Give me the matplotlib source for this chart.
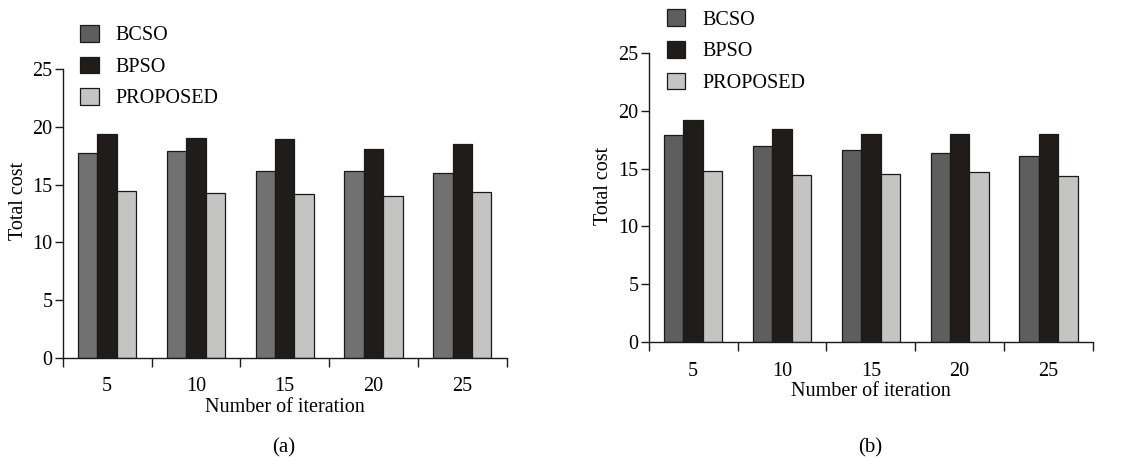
import matplotlib
matplotlib.use("Agg")
import matplotlib.pyplot as plt
import numpy as np
from matplotlib.patches import Patch

plt.rcParams['font.family'] = ['Liberation Serif', 'DejaVu Serif']

iterations = ["5", "10", "15", "20", "25"]
series = ["BCSO", "BPSO", "PROPOSED"]

bcso_a = [17.7, 17.87, 16.2, 16.2, 16.0]
bpso_a = [19.37, 19.02, 18.94, 18.07, 18.5]
prop_a = [14.46, 14.23, 14.15, 14.03, 14.38]

bcso_b = [17.9, 16.98, 16.6, 16.35, 16.09]
bpso_b = [19.2, 18.43, 18.02, 18.02, 18.02]
prop_b = [14.79, 14.48, 14.53, 14.73, 14.36]

colors_a = ["#717171", "#201c1a", "#c4c4c2"]
colors_b = ["#5e5e5e", "#201c1a", "#c4c4c2"]
legend_colors = ["#5e5e5e", "#201c1a", "#c4c4c2"]

fig = plt.figure(figsize=(11.32, 4.61), dpi=100)

def draw(ax, data, colors, caption, leg_anchor, ylab_coords):
    n = len(iterations)
    x = np.arange(n) + 0.5
    w = 0.218
    for k, (vals, c) in enumerate(zip(data, colors)):
        ax.bar(x + (k - 1) * w, vals, width=w, color=c, edgecolor="#1a1a1a",
               linewidth=0.9, label=series[k])
    ax.set_xlim(0, n)
    ax.set_ylim(0, 25)
    ax.spines['top'].set_visible(False)
    ax.spines['right'].set_visible(False)
    for s in ['left', 'bottom']:
        ax.spines[s].set_linewidth(1.0)
        ax.spines[s].set_color("#1a1a1a")
    ax.set_yticks([0, 5, 10, 15, 20, 25])
    ax.set_xticks(np.arange(n + 1))
    ax.set_xticklabels([])
    ax.set_xticks(x, minor=True)
    ax.set_xticklabels(iterations, minor=True)
    ax.tick_params(axis='x', which='major', direction='out', length=6.7, width=1.0, color="#1a1a1a")
    ax.tick_params(axis='x', which='minor', length=0, pad=14, labelsize=14.5)
    ax.tick_params(axis='y', direction='out', length=5.5, width=1.0, pad=2, labelsize=14.5, color="#1a1a1a")
    ax.set_xlabel("Number of iteration", fontsize=14.5, labelpad=1)
    ax.set_ylabel("Total cost", fontsize=14.5)
    ax.yaxis.set_label_coords(*ylab_coords)
    handles = [Patch(facecolor=c, edgecolor="#1a1a1a", linewidth=0.9) for c in legend_colors]
    fig.legend(handles, series, loc='upper left', bbox_to_anchor=leg_anchor,
               frameon=False, fontsize=14.5, handlelength=0.92, handleheight=0.92,
               handletextpad=0.85, labelspacing=0.55, borderpad=0, borderaxespad=0)
    bb = ax.get_position()
    fig.text((bb.x0 + bb.x1) / 2 - 0.001, 0.028, caption, ha='center', va='center', fontsize=15)

ax1 = fig.add_axes([0.0554, 0.224, 0.3922, 0.626])
draw(ax1, [bcso_a, bpso_a, prop_a], colors_a, "(a)", (80 / 1132, 1 - 25 / 461), (-0.078, 0.543))
ax2 = fig.add_axes([0.5731, 0.258, 0.3924, 0.627])
draw(ax2, [bcso_b, bpso_b, prop_b], colors_b, "(b)", (666.7 / 1132, 1 - 9.5 / 461), (-0.080, 0.5415))

fig.savefig("out.png", dpi=100)
